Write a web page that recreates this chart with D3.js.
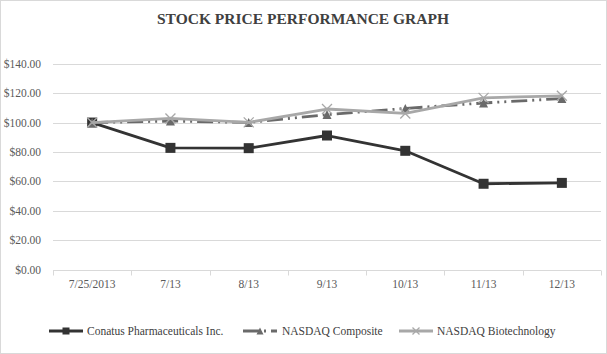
<!DOCTYPE html>
<html>
<head>
<meta charset="utf-8">
<style>
  body { margin: 0; background: #fff; }
  svg { display: block; font-family: "Liberation Serif", "Times New Roman", serif; }
</style>
</head>
<body>
<div id="chart"></div>
<script src="https://cdn.jsdelivr.net/npm/d3@7"></script>
<script>
const categories = ["7/25/2013", "7/13", "8/13", "9/13", "10/13", "11/13", "12/13"];
const conatus   = [100, 82.8, 82.6, 91.2, 80.8, 58.4, 59.0];
const composite = [100, 101.0, 100.1, 105.4, 109.6, 113.3, 116.3];
const biotech   = [100, 102.8, 100.1, 109.2, 106.2, 116.8, 118.2];
const yTicks = [0, 20, 40, 60, 80, 100, 120, 140];

const seriesList = [
  { name: "Conatus Pharmaceuticals Inc.", values: conatus, color: "#333333", marker: "square", dash: null },
  { name: "NASDAQ Composite", values: composite, color: "#6a6a6a", marker: "triangle", dash: "16,5,2,5,2,5" },
  { name: "NASDAQ Biotechnology", values: biotech, color: "#a8a8a8", marker: "x", dash: null }
];

const width = 607, height = 354;
const margin = { top: 63, right: 6, bottom: 84, left: 53 };

const svg = d3.select("#chart").append("svg")
  .attr("width", width)
  .attr("height", height);

// outer frame
svg.append("rect")
  .attr("x", 0.5).attr("y", 0.5)
  .attr("width", width - 1).attr("height", height - 1)
  .attr("fill", "#fff")
  .attr("stroke", "#d9d9d9");

svg.append("text")
  .attr("x", 303).attr("y", 24)
  .attr("text-anchor", "middle")
  .attr("font-size", 15.5)
  .attr("font-weight", "bold")
  .attr("fill", "#404040")
  .text("STOCK PRICE PERFORMANCE GRAPH");

const x = d3.scaleBand()
  .domain(categories)
  .range([margin.left, width - margin.right]);

const y = d3.scaleLinear()
  .domain([0, 140])
  .range([height - margin.bottom - 0.3, margin.top + 0.7]);

// gridlines
svg.append("g")
  .selectAll("line")
  .data(yTicks.filter(d => d > 0))
  .enter().append("line")
  .attr("x1", margin.left).attr("x2", width - margin.right)
  .attr("y1", d => Math.round(y(d)) + 0.5).attr("y2", d => Math.round(y(d)) + 0.5)
  .attr("stroke", "#d9d9d9");

// y axis labels
svg.append("g")
  .selectAll("text")
  .data(yTicks)
  .enter().append("text")
  .attr("x", 41)
  .attr("y", d => y(d) + 4)
  .attr("text-anchor", "end")
  .attr("font-size", 11.5)
  .attr("fill", "#595959")
  .text(d => "$" + d.toFixed(2));

// x axis
const xAxis = svg.append("g")
  .attr("transform", `translate(0,${Math.round(y(0)) + 0.5})`);
xAxis.append("line")
  .attr("x1", margin.left).attr("x2", width - margin.right)
  .attr("stroke", "#d9d9d9");
xAxis.selectAll("line.tick")
  .data(categories.concat(["end"]))
  .enter().append("line")
  .attr("class", "tick")
  .attr("x1", (d, i) => Math.round(margin.left + i * x.step()) + 0.5)
  .attr("x2", (d, i) => Math.round(margin.left + i * x.step()) + 0.5)
  .attr("y1", 0).attr("y2", 5)
  .attr("stroke", "#d9d9d9");
xAxis.selectAll("text")
  .data(categories)
  .enter().append("text")
  .attr("x", d => x(d) + x.bandwidth() / 2)
  .attr("y", 17)
  .attr("text-anchor", "middle")
  .attr("font-size", 11.5)
  .attr("fill", "#595959")
  .text(d => d);

function drawMarker(g, type, color, cx, cy, s) {
  if (type === "square") {
    g.append("rect")
      .attr("x", cx - s / 2).attr("y", cy - s / 2)
      .attr("width", s).attr("height", s)
      .attr("fill", color);
  } else if (type === "triangle") {
    g.append("path")
      .attr("d", `M${cx},${cy - s / 2}L${cx + s / 2},${cy + s / 2}L${cx - s / 2},${cy + s / 2}Z`)
      .attr("fill", color);
  } else {
    g.append("path")
      .attr("d", `M${cx - s / 2},${cy - s / 2}L${cx + s / 2},${cy + s / 2}M${cx + s / 2},${cy - s / 2}L${cx - s / 2},${cy + s / 2}`)
      .attr("stroke", color)
      .attr("stroke-width", 1.3)
      .attr("fill", "none");
  }
}

const line = d3.line()
  .x((d, i) => x(categories[i]) + x.bandwidth() / 2)
  .y(d => y(d));

const markerSize = { square: 10, triangle: 9, x: 10 };

seriesList.forEach(s => {
  const g = svg.append("g");
  g.append("path")
    .datum(s.values)
    .attr("d", line)
    .attr("fill", "none")
    .attr("stroke", s.color)
    .attr("stroke-width", 2.8)
    .attr("stroke-dasharray", s.dash)
    .attr("stroke-linejoin", "round");
  s.values.forEach((v, i) => {
    drawMarker(g, s.marker, s.color, x(categories[i]) + x.bandwidth() / 2, y(v), markerSize[s.marker]);
  });
});

// legend
const legendItems = [
  { x0: 49, tx: 87 },
  { x0: 243, tx: 282 },
  { x0: 399, tx: 437 }
];
const legY = 331;
seriesList.forEach((s, i) => {
  const li = legendItems[i];
  const g = svg.append("g");
  g.append("line")
    .attr("x1", li.x0).attr("x2", li.x0 + 34)
    .attr("y1", legY).attr("y2", legY)
    .attr("stroke", s.color)
    .attr("stroke-width", 2.8)
    .attr("stroke-dasharray", s.dash ? "16,5,2,5" : null);
  drawMarker(g, s.marker, s.color, li.x0 + 17, legY, 7);
  g.append("text")
    .attr("x", li.tx).attr("y", legY + 4)
    .attr("font-size", 11.5)
    .attr("fill", "#404040")
    .text(s.name);
});
</script>
</body>
</html>
